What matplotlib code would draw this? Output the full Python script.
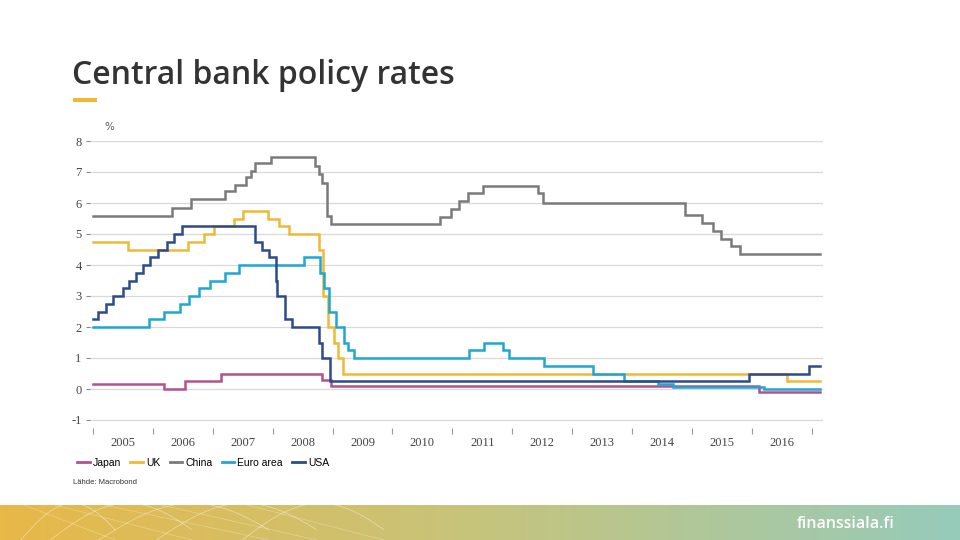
import numpy as np
import pandas as pd
import matplotlib
matplotlib.use('Agg')
import matplotlib.pyplot as plt
from matplotlib.lines import Line2D

# Policy rates (%), step changes: date of change -> new level
japan_dates = ['2005-01-01', '2006-03-09', '2006-07-14', '2007-02-21', '2008-10-31', '2008-12-19', '2016-02-16']
japan_rates = [0.15, 0.0, 0.25, 0.5, 0.3, 0.1, -0.1]

uk_dates = ['2005-01-01', '2005-08-04', '2006-08-03', '2006-11-09', '2007-01-11', '2007-05-10',
            '2007-07-05', '2007-12-06', '2008-02-07', '2008-04-10', '2008-10-08', '2008-11-06',
            '2008-12-04', '2009-01-08', '2009-02-05', '2009-03-05', '2016-08-04']
uk_rates = [4.75, 4.5, 4.75, 5.0, 5.25, 5.5, 5.75, 5.5, 5.25, 5.0, 4.5, 3.0, 2.0, 1.5, 1.0, 0.5, 0.25]

china_dates = ['2005-01-01', '2006-04-28', '2006-08-19', '2007-03-18', '2007-05-19', '2007-07-21',
               '2007-08-22', '2007-09-15', '2007-12-21', '2008-09-16', '2008-10-09', '2008-10-30',
               '2008-11-27', '2008-12-23', '2010-10-20', '2010-12-26', '2011-02-09', '2011-04-06',
               '2011-07-07', '2012-06-08', '2012-07-06', '2014-11-22', '2015-03-01', '2015-05-11',
               '2015-06-28', '2015-08-26', '2015-10-24']
china_rates = [5.58, 5.85, 6.12, 6.39, 6.57, 6.84, 7.02, 7.29, 7.47, 7.20, 6.93, 6.66, 5.58, 5.31,
               5.56, 5.81, 6.06, 6.31, 6.56, 6.31, 6.00, 5.60, 5.35, 5.10, 4.85, 4.60, 4.35]

euro_dates = ['2005-01-01', '2005-12-06', '2006-03-08', '2006-06-15', '2006-08-09', '2006-10-11',
              '2006-12-13', '2007-03-14', '2007-06-13', '2008-07-09', '2008-10-15', '2008-11-12',
              '2008-12-10', '2009-01-21', '2009-03-11', '2009-04-08', '2009-05-13', '2011-04-13',
              '2011-07-13', '2011-11-09', '2011-12-14', '2012-07-11', '2013-05-08', '2013-11-13',
              '2014-06-11', '2014-09-10', '2016-03-16']
euro_rates = [2.0, 2.25, 2.5, 2.75, 3.0, 3.25, 3.5, 3.75, 4.0, 4.25, 3.75, 3.25, 2.5, 2.0, 1.5,
              1.25, 1.0, 1.25, 1.5, 1.25, 1.0, 0.75, 0.5, 0.25, 0.15, 0.05, 0.0]

usa_dates = ['2005-01-01', '2005-02-02', '2005-03-22', '2005-05-03', '2005-06-30', '2005-08-09',
             '2005-09-20', '2005-11-01', '2005-12-13', '2006-01-31', '2006-03-28', '2006-05-10',
             '2006-06-29', '2007-09-18', '2007-10-31', '2007-12-11', '2008-01-22', '2008-01-30',
             '2008-03-18', '2008-04-30', '2008-10-08', '2008-10-29', '2008-12-16', '2015-12-16',
             '2016-12-14']
usa_rates = [2.25, 2.5, 2.75, 3.0, 3.25, 3.5, 3.75, 4.0, 4.25, 4.5, 4.75, 5.0, 5.25, 4.75, 4.5,
             4.25, 3.5, 3.0, 2.25, 2.0, 1.5, 1.0, 0.25, 0.5, 0.75]

end_date = '2017-02-22'
series_names = ['Japan', 'UK', 'China', 'Euro area', 'USA']
series_colors = ['#b4518c', '#f0b935', '#7a7a7a', '#1fa6d4', '#2c4a8c']
year_labels = list(range(2005, 2017))
y_ticks = list(range(-1, 9))


def to_year(dates):
    d = pd.to_datetime(pd.Series(dates))
    return (d.dt.year + (d.dt.dayofyear - 1) / 365.25).to_numpy()


fig = plt.figure(figsize=(9.6, 5.4), dpi=100)
fig.patch.set_facecolor('white')

# title + accent
fig.text(72 / 960, 1 - 75 / 540, 'Central bank policy rates', fontsize=23, fontweight='semibold',
         family='Open Sans', color='#333333', va='center', ha='left')
fig.add_artist(plt.Rectangle((73 / 960, 1 - 102 / 540), 24 / 960, 4 / 540,
                             transform=fig.transFigure, color='#f0b935', lw=0))

ax = fig.add_axes([90 / 960, 1 - 427.75 / 540, 733 / 960, (427.75 - 141) / 540])
all_series = [(japan_dates, japan_rates), (uk_dates, uk_rates), (china_dates, china_rates),
              (euro_dates, euro_rates), (usa_dates, usa_rates)]
for (dates, rates), name, col in zip(all_series, series_names, series_colors):
    x = to_year(dates + [end_date])
    y = rates + [rates[-1]]
    ax.step(x, y, where='post', color=col, lw=1.8, label=name, solid_joinstyle='miter')

ax.set_xlim(2004.95, 2017.19)
ax.set_ylim(-1.25, 8.0)
ax.set_yticks(y_ticks)
ax.set_yticklabels([str(v) for v in y_ticks], family='Liberation Serif', fontsize=9, color='#444444')
ax.tick_params(axis='y', length=3, width=0.8, color='#888888', pad=3)
ax.grid(True, axis='y', color='#d9d9d9', lw=0.9)
ax.set_axisbelow(True)

ax.set_xticks(np.arange(2005, 2018))
ax.set_xticklabels([])
ax.set_xticks(np.array(year_labels) + 0.5, minor=True)
ax.set_xticklabels([str(y) for y in year_labels], minor=True, family='Liberation Serif',
                   fontsize=9, color='#444444')
ax.tick_params(axis='x', which='major', length=4, width=0.8, color='#999999', direction='out')
ax.tick_params(axis='x', which='minor', length=0, pad=7)
for s in ax.spines.values():
    s.set_visible(False)

fig.text(104 / 960, 1 - 127 / 540, '%', fontsize=7.5, color='#555555', va='center')

handles = [Line2D([0], [0], color=c, lw=2) for c in series_colors]
fig.legend(handles, series_names, loc='center left', bbox_to_anchor=(72 / 960, 1 - 463 / 540),
           ncol=5, frameon=False, handlelength=1.2, handletextpad=0.3,
           columnspacing=0.9, borderpad=0, prop={'family': 'Liberation Sans', 'size': 7.5})
fig.text(73 / 960, 1 - 483 / 540, 'Lähde: Macrobond', fontsize=5.5, family='Liberation Sans',
         color='#333333', va='center')

# footer band
fax = fig.add_axes([0, 0, 1, 35 / 540])
grad = np.linspace(0, 1, 256)
c0 = np.array([0xe8, 0xb8, 0x48]) / 255
c1 = np.array([0xc6, 0xc4, 0x7c]) / 255
c2 = np.array([0x96, 0xcb, 0xba]) / 255
cols = np.where(grad[:, None] < 0.5,
                c0 + (c1 - c0) * (grad[:, None] / 0.5),
                c1 + (c2 - c1) * ((grad[:, None] - 0.5) / 0.5))
fax.imshow(cols[None, :, :], aspect='auto', extent=(0, 1, 0, 1))
t = np.linspace(0, 1, 50)
for a, b in [(0.02, 0.12), (0.05, 0.2), (0.1, 0.28), (0.16, 0.33), (0.25, 0.4)]:
    fax.plot(a + (b - a) * t, np.sin(t * np.pi * 0.9) * 1.1 - 0.05, color='white', lw=0.5, alpha=0.5)
    fax.plot(b - (b - a) * t, t * 1.05, color='white', lw=0.4, alpha=0.4)
fax.set_xlim(0, 1)
fax.set_ylim(0, 1)
fax.axis('off')
fax.text(797 / 960, 0.45, 'finanssiala.fi', color='white', fontsize=11.5, family='Open Sans',
         fontweight='semibold', ha='left', va='center')

fig.savefig('out.png', dpi=100)
